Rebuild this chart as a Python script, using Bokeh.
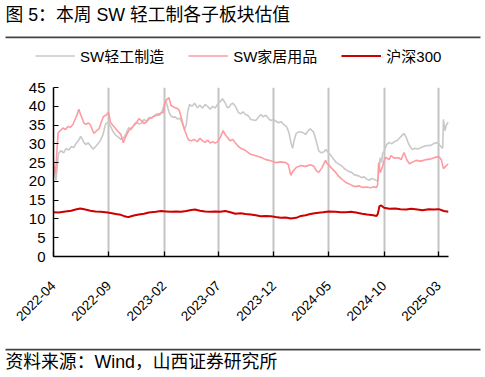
from datetime import datetime
from math import pi

from bokeh.plotting import figure
from bokeh.layouts import column
from bokeh.models import (Range1d, FixedTicker, DatetimeTickFormatter, Label,
                          Legend, LegendItem, BoxAnnotation, ColumnDataSource)
from bokeh.embed import file_html
from bokeh.resources import INLINE

# ---------------- data ----------------
title_text = "图 5：本周 SW 轻工制各子板块估值"
source_text = "资料来源：Wind，山西证券研究所"
series_names = ["SW轻工制造", "SW家居用品", "沪深300"]

tick_labels = ["2022-04", "2022-09", "2023-02", "2023-07", "2023-12",
               "2024-05", "2024-10", "2025-03"]
y_ticks = [0, 5, 10, 15, 20, 25, 30, 35, 40, 45]

light_dates = [
    "2022-04-01", "2022-04-04", "2022-04-08", "2022-04-12", "2022-04-15", "2022-04-22",
    "2022-04-29", "2022-05-06", "2022-05-13", "2022-05-20", "2022-05-27", "2022-06-03",
    "2022-06-10", "2022-06-15", "2022-06-20", "2022-06-24", "2022-06-30", "2022-07-06",
    "2022-07-12", "2022-07-19", "2022-07-26", "2022-08-02", "2022-08-09", "2022-08-16",
    "2022-08-23", "2022-08-30", "2022-09-06", "2022-09-13", "2022-09-20", "2022-09-27",
    "2022-10-04", "2022-10-12", "2022-10-19", "2022-10-26", "2022-11-02", "2022-11-09",
    "2022-11-16", "2022-11-23", "2022-11-30", "2022-12-07", "2022-12-14", "2022-12-21",
    "2022-12-28", "2023-01-05", "2023-01-12", "2023-01-19", "2023-01-27", "2023-02-01",
    "2023-02-06", "2023-02-10", "2023-02-14", "2023-02-20", "2023-02-27", "2023-03-03",
    "2023-03-10", "2023-03-17", "2023-03-24", "2023-03-29", "2023-04-03", "2023-04-07",
    "2023-04-12", "2023-04-19", "2023-04-26", "2023-05-04", "2023-05-11", "2023-05-18",
    "2023-05-25", "2023-06-01", "2023-06-08", "2023-06-15", "2023-06-22", "2023-06-29",
    "2023-07-06", "2023-07-12", "2023-07-19", "2023-07-26", "2023-07-31", "2023-08-04",
    "2023-08-10", "2023-08-17", "2023-08-25", "2023-08-31", "2023-09-07", "2023-09-14",
    "2023-09-21", "2023-09-28", "2023-10-12", "2023-10-19", "2023-10-26", "2023-11-02",
    "2023-11-09", "2023-11-16", "2023-11-23", "2023-11-30", "2023-12-07", "2023-12-14",
    "2023-12-21", "2023-12-28", "2024-01-05", "2024-01-12", "2024-01-17", "2024-01-22",
    "2024-01-26", "2024-02-01", "2024-02-08", "2024-02-20", "2024-02-27", "2024-03-05",
    "2024-03-11", "2024-03-15", "2024-03-20", "2024-03-25", "2024-03-28", "2024-04-03",
    "2024-04-10", "2024-04-17", "2024-04-23", "2024-04-30", "2024-05-08", "2024-05-15",
    "2024-05-22", "2024-05-29", "2024-06-05", "2024-06-12", "2024-06-19", "2024-06-26",
    "2024-07-03", "2024-07-10", "2024-07-17", "2024-07-24", "2024-07-31", "2024-08-07",
    "2024-08-14", "2024-08-21", "2024-08-28", "2024-09-04", "2024-09-11", "2024-09-13",
    "2024-09-17", "2024-09-20", "2024-09-24", "2024-09-27", "2024-10-01", "2024-10-08",
    "2024-10-15", "2024-10-22", "2024-10-29", "2024-11-05", "2024-11-12", "2024-11-19",
    "2024-11-25", "2024-12-02", "2024-12-06", "2024-12-12", "2024-12-18", "2024-12-25",
    "2025-01-03", "2025-01-10", "2025-01-17", "2025-01-24", "2025-02-07", "2025-02-14",
    "2025-02-21", "2025-02-28", "2025-03-05", "2025-03-10", "2025-03-12", "2025-03-14",
    "2025-03-18", "2025-03-22", "2025-03-28",
]
light_values = [
    23.5, 22.0, 20.3, 24.5, 27.5, 28.2,
    27.6, 28.8, 28.3, 29.3, 29.0, 30.2,
    31.0, 32.0, 31.2, 30.4, 29.8, 30.3,
    29.5, 28.6, 29.2, 30.0, 31.0, 32.5,
    35.3, 35.8, 34.6, 33.2, 32.3, 31.8,
    31.2, 31.6, 32.8, 34.3, 33.8, 35.0,
    35.8, 35.3, 35.5, 36.5, 36.0, 37.0,
    36.8, 37.5, 38.0, 37.6, 38.8, 40.5,
    41.2, 40.0, 38.5, 37.4, 37.0, 37.2,
    36.6, 36.8, 35.2, 33.8, 35.0, 38.5,
    40.5, 40.0, 40.8, 39.6, 40.3, 39.5,
    40.5, 40.0, 39.2, 40.0, 39.5, 40.6,
    41.3, 42.0, 41.0, 39.6, 39.8, 40.5,
    40.8, 40.0, 38.4, 38.0, 38.5, 37.8,
    37.5, 36.5, 36.2, 37.0, 37.8, 37.2,
    37.6, 36.8, 36.2, 36.5, 36.0, 35.6,
    35.9, 35.2, 34.6, 33.0, 30.5, 28.8,
    30.8, 32.8, 33.2, 33.0, 32.5, 33.5,
    34.0, 33.6, 33.2, 31.5, 30.5, 28.2,
    27.6, 27.8, 28.5, 27.6, 26.8, 25.8,
    25.0, 24.6, 24.2, 23.5, 23.0, 22.6,
    22.4, 21.8, 21.6, 21.4, 21.0, 21.2,
    20.6, 20.3, 20.8, 20.5, 20.2, 20.0,
    23.0, 26.3, 25.0, 27.5, 28.0, 29.8,
    30.4, 30.0, 30.6, 30.8, 31.5, 32.2,
    32.8, 31.5, 30.4, 29.2, 28.5, 28.8,
    28.6, 29.0, 29.2, 29.5, 29.6, 30.0,
    30.3, 30.2, 29.5, 29.0, 28.8, 36.5,
    33.5, 35.0, 35.8,
]

home_dates = [
    "2022-04-01", "2022-04-04", "2022-04-07", "2022-04-11", "2022-04-14", "2022-04-20",
    "2022-04-27", "2022-05-04", "2022-05-11", "2022-05-18", "2022-05-25", "2022-06-01",
    "2022-06-06", "2022-06-10", "2022-06-15", "2022-06-20", "2022-06-24", "2022-06-30",
    "2022-07-06", "2022-07-12", "2022-07-18", "2022-07-22", "2022-07-29", "2022-08-05",
    "2022-08-10", "2022-08-17", "2022-08-24", "2022-08-31", "2022-09-06", "2022-09-13",
    "2022-09-20", "2022-09-27", "2022-10-04", "2022-10-11", "2022-10-18", "2022-10-26",
    "2022-11-02", "2022-11-09", "2022-11-16", "2022-11-23", "2022-11-30", "2022-12-07",
    "2022-12-14", "2022-12-21", "2022-12-28", "2023-01-05", "2023-01-12", "2023-01-19",
    "2023-01-30", "2023-02-03", "2023-02-08", "2023-02-14", "2023-02-20", "2023-02-27",
    "2023-03-03", "2023-03-10", "2023-03-15", "2023-03-20", "2023-03-25", "2023-03-30",
    "2023-04-05", "2023-04-10", "2023-04-17", "2023-04-24", "2023-05-04", "2023-05-11",
    "2023-05-18", "2023-05-25", "2023-06-01", "2023-06-08", "2023-06-15", "2023-06-22",
    "2023-06-29", "2023-07-06", "2023-07-14", "2023-07-20", "2023-07-28", "2023-08-03",
    "2023-08-10", "2023-08-17", "2023-08-25", "2023-09-01", "2023-09-14", "2023-09-28",
    "2023-10-12", "2023-10-26", "2023-11-09", "2023-11-23", "2023-12-06", "2023-12-20",
    "2024-01-03", "2024-01-10", "2024-01-17", "2024-01-22", "2024-02-01", "2024-02-14",
    "2024-02-27", "2024-03-11", "2024-03-20", "2024-03-28", "2024-04-03", "2024-04-12",
    "2024-04-22", "2024-04-26", "2024-05-01", "2024-05-10", "2024-05-20", "2024-05-30",
    "2024-06-10", "2024-06-17", "2024-06-25", "2024-07-03", "2024-07-14", "2024-07-24",
    "2024-08-04", "2024-08-14", "2024-08-25", "2024-09-03", "2024-09-10", "2024-09-13",
    "2024-09-16", "2024-09-20", "2024-09-25", "2024-10-01", "2024-10-06", "2024-10-15",
    "2024-10-20", "2024-10-28", "2024-11-10", "2024-11-17", "2024-11-25", "2024-12-03",
    "2024-12-10", "2024-12-20", "2024-12-28", "2025-01-11", "2025-01-25", "2025-02-08",
    "2025-02-20", "2025-03-01", "2025-03-08", "2025-03-14", "2025-03-20", "2025-03-28",
]
home_values = [
    25.0, 23.5, 22.0, 29.0, 33.0, 33.5,
    34.2, 33.8, 34.6, 34.4, 35.2, 36.8,
    38.0, 39.2, 37.8, 36.6, 35.5, 35.2,
    35.6, 35.0, 33.6, 32.8, 33.5, 34.0,
    35.5, 37.3, 37.6, 38.4, 35.6, 34.8,
    34.0, 33.2, 32.6, 30.3, 32.0, 33.5,
    34.2, 34.9, 35.5, 36.7, 36.2, 35.4,
    35.8, 36.7, 37.0, 37.4, 37.6, 38.0,
    38.4, 41.0, 41.8, 42.3, 40.2, 39.8,
    39.6, 39.4, 38.8, 37.0, 35.2, 33.5,
    32.0, 31.0, 30.8, 31.2, 30.6, 31.5,
    30.8, 30.4, 31.0, 30.2, 30.6, 30.2,
    30.6, 31.7, 33.5, 32.4, 31.4, 30.8,
    31.2, 30.2, 29.3, 28.8, 28.2, 27.2,
    26.8, 26.4, 25.8, 25.5, 25.0, 25.2,
    25.0, 24.5, 21.6, 22.6, 23.7, 24.2,
    24.0, 24.4, 24.1, 22.8, 22.4, 23.6,
    25.6, 24.8, 24.4, 23.4, 22.4, 21.2,
    20.3, 19.7, 19.4, 19.0, 18.6, 18.8,
    18.4, 18.5, 18.3, 18.6, 18.4, 19.0,
    25.0, 22.3, 23.5, 25.5, 26.4, 25.8,
    26.9, 26.2, 26.3, 25.8, 27.7, 25.7,
    24.7, 25.2, 25.6, 25.4, 25.8, 26.0,
    26.4, 26.6, 25.8, 23.4, 24.0, 24.7,
]

hs300_dates = [
    "2022-04-01", "2022-04-15", "2022-05-04", "2022-05-20", "2022-06-01", "2022-06-14",
    "2022-06-28", "2022-07-12", "2022-07-26", "2022-08-09", "2022-08-23", "2022-09-06",
    "2022-09-20", "2022-10-04", "2022-10-12", "2022-10-20", "2022-10-26", "2022-11-09",
    "2022-11-23", "2022-12-07", "2022-12-21", "2023-01-09", "2023-01-23", "2023-02-06",
    "2023-02-20", "2023-03-06", "2023-03-20", "2023-04-03", "2023-04-17", "2023-04-27",
    "2023-05-11", "2023-05-25", "2023-06-09", "2023-06-22", "2023-07-06", "2023-07-20",
    "2023-08-03", "2023-08-17", "2023-08-31", "2023-09-14", "2023-09-28", "2023-10-12",
    "2023-10-26", "2023-11-09", "2023-11-23", "2023-12-06", "2023-12-20", "2024-01-03",
    "2024-01-17", "2024-02-01", "2024-02-14", "2024-02-27", "2024-03-11", "2024-03-28",
    "2024-04-15", "2024-05-01", "2024-05-20", "2024-06-03", "2024-06-17", "2024-07-01",
    "2024-07-15", "2024-08-01", "2024-08-15", "2024-09-01", "2024-09-10", "2024-09-13",
    "2024-09-16", "2024-09-18", "2024-09-23", "2024-10-01", "2024-10-15", "2024-11-01",
    "2024-11-15", "2024-12-01", "2024-12-15", "2025-01-01", "2025-01-15", "2025-02-01",
    "2025-02-15", "2025-03-01", "2025-03-15", "2025-03-28",
]
hs300_values = [
    11.8, 11.7, 12.0, 12.2, 12.5, 12.8,
    12.5, 12.2, 12.0, 11.9, 11.8, 11.6,
    11.3, 11.1, 10.8, 10.6, 10.5, 10.9,
    11.2, 11.4, 11.7, 11.9, 12.1, 12.0,
    11.9, 12.0, 11.9, 12.1, 12.4, 12.5,
    12.2, 12.0, 11.9, 12.0, 11.9, 12.1,
    11.8, 11.4, 11.5, 11.3, 11.2, 11.0,
    10.7, 10.8, 10.7, 10.5, 10.3, 10.4,
    10.1, 10.3, 10.8, 11.0, 11.3, 11.6,
    11.8, 12.0, 11.9, 11.8, 11.8, 11.9,
    11.7, 11.4, 11.2, 11.0, 10.8, 11.2,
    12.4, 13.4, 13.6, 13.0, 12.7, 12.8,
    12.6, 12.5, 12.7, 12.5, 12.3, 12.6,
    12.5, 12.6, 12.1, 11.9,
]

colors = ["#c9c9c9", "#ff9aa2", "#cc0000"]
widths = [1.6, 1.6, 2.0]

FONT = "'Liberation Sans', 'Noto Sans CJK SC'"


def to_dt(items):
    return [datetime.strptime(s, "%Y-%m-%d") for s in items]


def to_ms(dt):
    return (dt - datetime(1970, 1, 1)).total_seconds() * 1000.0


tick_dts = [datetime.strptime(t + "-01", "%Y-%m-%d") for t in tick_labels]
sources = [ColumnDataSource(dict(x=to_dt(d), y=v))
           for d, v in [(light_dates, light_values), (home_dates, home_values),
                        (hs300_dates, hs300_values)]]

W = 485
TOP_H, MAIN_H, BOT_H = 72, 270, 35


def blank(height):
    f = figure(width=W, height=height, output_backend="svg", toolbar_location=None,
               x_axis_location=None, y_axis_location=None,
               x_range=Range1d(0, W), y_range=Range1d(height, 0),
               min_border=0, frame_align=False)
    f.outline_line_color = None
    f.grid.visible = False
    return f


# ---------------- header: title, rule, legend ----------------
top = blank(TOP_H)
top.add_layout(Label(x=5, y=14.5, text=title_text, text_font=FONT,
                     text_font_size="17.8px", text_color="black",
                     text_baseline="middle", text_align="left"))
top.add_layout(BoxAnnotation(left=5, right=480, top=36, bottom=37.8,
                             fill_color="#444444", fill_alpha=1, line_color=None))
legend_renderers = []
for src, c, lw in zip(sources, colors, widths):
    r = top.line("x", "y", source=src, line_color=c, line_width=lw)
    r.visible = False
    legend_renderers.append(r)
legend = Legend(items=[LegendItem(label=n, renderers=[r])
                       for n, r in zip(series_names, legend_renderers)],
                orientation="horizontal", location=(35, 6.5),
                glyph_width=40, glyph_height=17, label_height=17,
                label_standoff=5, spacing=24, padding=0, margin=0,
                border_line_color=None, background_fill_alpha=0,
                label_text_font=FONT, label_text_font_size="15px",
                label_text_color="black", click_policy="none")
top.add_layout(legend, "center")

# ---------------- main chart ----------------
FL, FR = 53, 448
p = figure(width=W, height=MAIN_H, output_backend="svg", toolbar_location=None,
           x_axis_type="datetime",
           x_range=Range1d(to_dt(light_dates)[0], to_dt(light_dates)[-1]),
           y_range=Range1d(0, 45),
           min_border_left=FL, min_border_right=W - FR,
           min_border_top=15, min_border_bottom=86, frame_align=False)
p.outline_line_color = None

for src, c, lw in zip(sources, colors, widths):
    p.line("x", "y", source=src, line_color=c, line_width=lw)

p.xaxis.ticker = FixedTicker(ticks=[to_ms(t) for t in tick_dts])
p.xaxis.formatter = DatetimeTickFormatter(months="%Y-%m", days="%Y-%m", years="%Y-%m")
p.xaxis.major_label_orientation = pi / 4
p.yaxis.ticker = FixedTicker(ticks=y_ticks)
for ax in (p.xaxis, p.yaxis):
    ax.axis_line_color = "black"
    ax.axis_line_width = 1.5
    ax.major_tick_line_color = "black"
    ax.major_tick_line_width = 1.2
    ax.major_tick_in = 5
    ax.major_tick_out = 0
    ax.minor_tick_line_color = None
    ax.major_label_text_color = "black"
    ax.major_label_text_font = "Liberation Sans"
p.xaxis.major_label_text_font_size = "13.5px"
p.yaxis.major_label_text_font_size = "15px"
p.yaxis.major_label_standoff = 8
p.xaxis.major_label_standoff = 27

p.ygrid.grid_line_color = None
p.xgrid.grid_line_color = "#c4c4c4"
p.xgrid.grid_line_width = 2
p.xgrid.ticker = p.xaxis.ticker

# ---------------- footer: rule, source ----------------
bot = blank(BOT_H)
bot.add_layout(BoxAnnotation(left=5, right=480, top=6.2, bottom=8,
                             fill_color="#444444", fill_alpha=1, line_color=None))
bot.add_layout(Label(x=5, y=19.5, text=source_text, text_font=FONT,
                     text_font_size="17.8px", text_color="black",
                     text_baseline="middle", text_align="left"))

layout = column(top, p, bot, spacing=0)
open("out.html", "w").write(file_html(layout, INLINE))
